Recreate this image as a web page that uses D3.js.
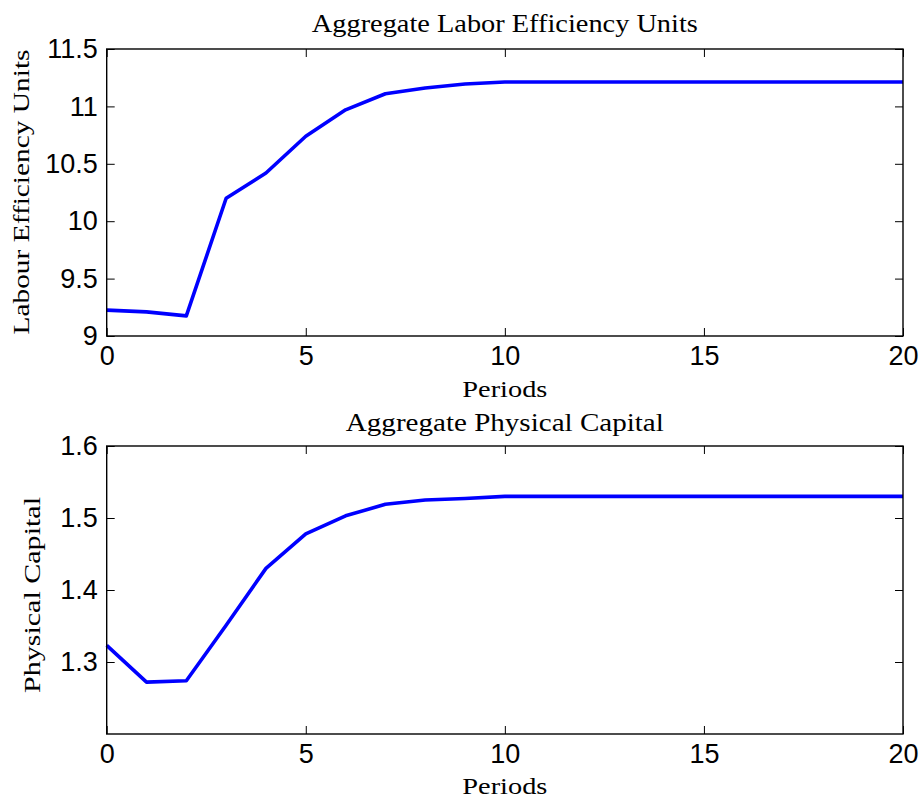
<!DOCTYPE html>
<html>
<head>
<meta charset="utf-8">
<script src="https://cdn.jsdelivr.net/npm/d3@7"></script>
<style>
  html, body { margin: 0; padding: 0; background: #fff; }
  svg { display: block; }
  .tick text { font-family: "Liberation Sans", Arial, Helvetica, sans-serif; font-size: 27px; fill: #000; }
  .serif { font-family: "Liberation Serif", "Times New Roman", serif; fill: #000; }
</style>
</head>
<body>
<svg id="chart" width="919" height="799"></svg>
<script>
// ---- data ----
const periods = [0,1,2,3,4,5,6,7,8,9,10,11,12,13,14,15,16,17,18,19,20];
const laborUnits = [9.225, 9.21, 9.175, 10.20, 10.42, 10.74, 10.97, 11.11, 11.16, 11.195, 11.212,
                    11.212, 11.212, 11.212, 11.212, 11.212, 11.212, 11.212, 11.212, 11.212, 11.212];
const physCapital = [1.323, 1.272, 1.274, 1.351, 1.430, 1.478, 1.503, 1.519, 1.525, 1.527, 1.530,
                     1.530, 1.530, 1.530, 1.530, 1.530, 1.530, 1.530, 1.530, 1.530, 1.530];
const xTicks = [0, 5, 10, 15, 20];
const xTickLabels = ["0", "5", "10", "15", "20"];
const laborTicks = [9, 9.5, 10, 10.5, 11, 11.5];
const laborTickLabels = ["9", "9.5", "10", "10.5", "11", "11.5"];
const capitalTicks = [1.3, 1.4, 1.5, 1.6];
const capitalTickLabels = ["1.3", "1.4", "1.5", "1.6"];

const svg = d3.select("#chart");

function panel(cfg) {
  const x = d3.scaleLinear().domain([0, 20]).range([cfg.left, cfg.right]);
  const y = d3.scaleLinear().domain(cfg.yDomain).range([cfg.bottom, cfg.top]);
  const g = svg.append("g");

  // line
  const line = d3.line().x((d, i) => x(periods[i])).y(d => y(d));
  g.append("path").datum(cfg.values)
    .attr("d", line).attr("fill", "none")
    .attr("stroke", "#0000ff").attr("stroke-width", 3.6)
    .attr("stroke-linejoin", "round");

  const tk = 8;
  const fmtX = d => xTickLabels[xTicks.indexOf(d)];
  const fmtY = d => cfg.yLabels[cfg.yTicks.indexOf(d)];

  const ax = (axis, tr) => {
    const a = g.append("g").attr("transform", tr).call(axis);
    a.select(".domain").remove();
    a.selectAll(".tick line").attr("stroke", "#000").attr("stroke-width", 1);
    return a;
  };
  const bx = ax(d3.axisBottom(x).tickValues(xTicks).tickFormat(fmtX).tickSizeInner(-tk).tickSizeOuter(0).tickPadding(10),
     `translate(0,${cfg.bottom})`);
  bx.selectAll(".tick text").attr("dy", "0.71em");
  ax(d3.axisTop(x).tickValues(xTicks).tickFormat("").tickSizeInner(-tk).tickSizeOuter(0), `translate(0,${cfg.top})`);
  ax(d3.axisLeft(y).tickValues(cfg.yTicks).tickFormat(fmtY).tickSizeInner(-tk).tickSizeOuter(0).tickPadding(9),
     `translate(${cfg.left},0)`);
  ax(d3.axisRight(y).tickValues(cfg.yTicks).tickFormat("").tickSizeInner(-tk).tickSizeOuter(0), `translate(${cfg.right},0)`);
  g.selectAll(".tick text").style("font-size", null).attr("font-size", null)
    .attr("font-family", null);

  // box
  g.append("rect").attr("x", cfg.left).attr("y", cfg.top)
    .attr("width", cfg.right - cfg.left).attr("height", cfg.bottom - cfg.top)
    .attr("fill", "none").attr("stroke", "#000").attr("stroke-width", 1.4);

  const cx = (cfg.left + cfg.right) / 2;
  g.append("text").attr("class", "serif").attr("x", cx).attr("y", cfg.titleY)
    .attr("text-anchor", "middle").attr("font-size", 25)
    .attr("textLength", cfg.titleLen).attr("lengthAdjust", "spacingAndGlyphs")
    .text(cfg.title);
  g.append("text").attr("class", "serif").attr("x", cx).attr("y", cfg.xlabY)
    .attr("text-anchor", "middle").attr("font-size", 23)
    .attr("textLength", 85).attr("lengthAdjust", "spacingAndGlyphs")
    .text("Periods");
  g.append("text").attr("class", "serif")
    .attr("transform", `translate(${cfg.ylabX},${cfg.ylabCY}) rotate(-90)`)
    .attr("text-anchor", "middle").attr("font-size", 23)
    .attr("textLength", cfg.ylabLen).attr("lengthAdjust", "spacingAndGlyphs")
    .text(cfg.ylabel);
}

panel({
  left: 106.7, right: 903, top: 49, bottom: 336,
  yDomain: [9, 11.5], yTicks: laborTicks, yLabels: laborTickLabels,
  values: laborUnits,
  title: "Aggregate Labor Efficiency Units", titleY: 32, titleLen: 386,
  xlabY: 397,
  ylabel: "Labour Efficiency Units", ylabX: 29, ylabCY: 192, ylabLen: 285
});

panel({
  left: 106.7, right: 903, top: 446, bottom: 734,
  yDomain: [1.2, 1.6], yTicks: capitalTicks, yLabels: capitalTickLabels,
  values: physCapital,
  title: "Aggregate Physical Capital", titleY: 431, titleLen: 318,
  xlabY: 794,
  ylabel: "Physical Capital", ylabX: 40, ylabCY: 595, ylabLen: 196
});
</script>
</body>
</html>
